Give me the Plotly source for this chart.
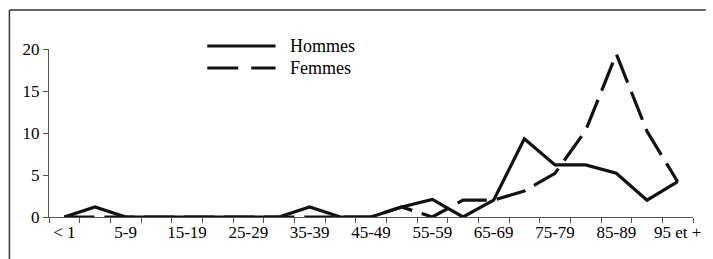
import plotly.graph_objects as go

categories = ["< 1", "1-4", "5-9", "10-14", "15-19", "20-24", "25-29", "30-34",
              "35-39", "40-44", "45-49", "50-54", "55-59", "60-64", "65-69",
              "70-74", "75-79", "80-84", "85-89", "90-94", "95 et +"]
hommes = [0, 1.2, 0, 0, 0, 0, 0, 0, 1.2, 0, 0, 1.2, 2.1, 0, 2, 9.3, 6.2, 6.2, 5.2, 2, 4.2]
femmes = [0, 0, 0, 0, 0, 0, 0, 0, 0, 0, 0, 1.2, 0, 2, 2, 3.1, 5.2, 10.3, 19.4, 10.2, 4.2]
tick_labels = [c if i % 2 == 0 else "" for i, c in enumerate(categories)]
y_ticks = [0, 5, 10, 15, 20]

FONT = "'Liberation Serif', 'Times New Roman', Times, serif"

fig = go.Figure()
fig.add_trace(go.Scatter(x=categories, y=femmes, name="Femmes", mode="lines",
                         line=dict(color="#111", width=3.2, dash="30px,10px"),
                         showlegend=False, hoverinfo="skip"))
fig.add_trace(go.Scatter(x=categories, y=hommes, name="Hommes", mode="lines",
                         line=dict(color="#111", width=3.2),
                         showlegend=False, hoverinfo="skip"))

W, H = 713, 259
ml, mr, mt, mb = 49, 13, 49, 42
pw, ph = W - ml - mr, H - mt - mb

def px(x):
    return (x - ml) / pw

def py(y):
    return (H - mb - y) / ph

shapes = [
    # outer frame: only top and left edges fall inside the picture
    dict(type="line", xref="paper", yref="paper", x0=px(9), x1=px(713), y0=py(10), y1=py(10),
         line=dict(color="#333", width=1.5)),
    dict(type="line", xref="paper", yref="paper", x0=px(9), x1=px(9), y0=py(10), y1=py(259),
         line=dict(color="#333", width=1.5)),
    # legend samples
    dict(type="line", xref="paper", yref="paper", x0=px(209), x1=px(278), y0=py(46), y1=py(46),
         line=dict(color="#111", width=3.2)),
    dict(type="line", xref="paper", yref="paper", x0=px(209), x1=px(278), y0=py(68), y1=py(68),
         line=dict(color="#111", width=3.2, dash="31px,13px")),
]
annotations = [
    dict(text="Hommes", xref="paper", yref="paper", x=px(291), y=py(46), xanchor="left",
         yanchor="middle", showarrow=False, font=dict(family=FONT, size=18, color="#000")),
    dict(text="Femmes", xref="paper", yref="paper", x=px(291), y=py(68), xanchor="left",
         yanchor="middle", showarrow=False, font=dict(family=FONT, size=18, color="#000")),
]

fig.update_layout(
    width=W, height=H, autosize=False,
    margin=dict(l=ml, r=mr, t=mt, b=mb),
    paper_bgcolor="white", plot_bgcolor="white",
    font=dict(family=FONT, size=17, color="#000"),
    shapes=shapes, annotations=annotations,
    xaxis=dict(type="category", tickmode="array", tickvals=categories, ticktext=tick_labels,
               tickson="boundaries", ticks="outside", ticklen=5, tickcolor="#555",
               showline=True, linecolor="#555", linewidth=1, showgrid=False,
               tickangle=0, range=[-0.5, 20.5], zeroline=False),
    yaxis=dict(range=[0, 20], tickvals=y_ticks, ticks="outside", ticklen=5, tickcolor="#555",
               showline=True, linecolor="#555", linewidth=1, showgrid=False, zeroline=False),
)

fig.write_html(
    "out.html", config={"displayModeBar": False},
    post_script=("document.documentElement.style.overflow='hidden';"
                 "document.body.style.overflow='hidden';"
                 "document.body.style.margin='0';document.body.style.padding='0';"))
